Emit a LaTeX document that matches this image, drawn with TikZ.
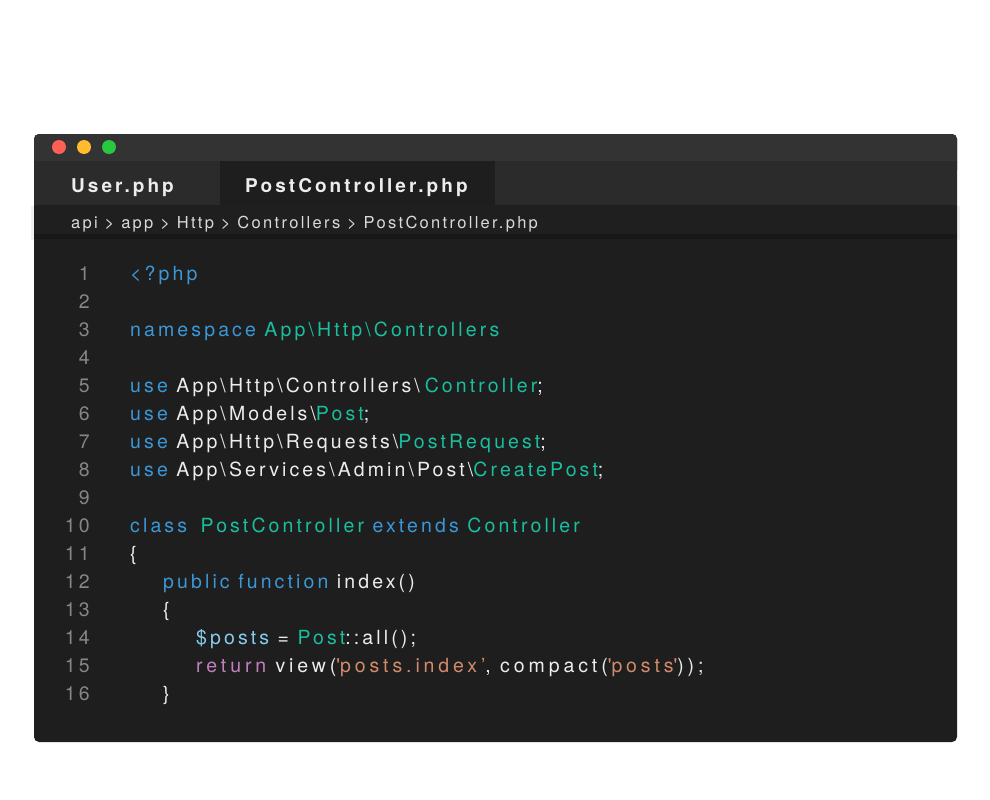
\documentclass[tikz,border=0pt]{standalone}
\usepackage{fontspec}
\newfontfamily\codefont[LetterSpace=16]{TeX Gyre Heros}
\newfontfamily\codewide[LetterSpace=20]{TeX Gyre Heros}
\newfontfamily\tabfont[LetterSpace=16]{TeX Gyre Heros}
\newfontfamily\pathfont[LetterSpace=14]{TeX Gyre Heros}
\definecolor{bgcode}{HTML}{1E1E1E}
\definecolor{bgtitle}{HTML}{333333}
\definecolor{bgtabs}{HTML}{2B2B2B}
\definecolor{bgpath}{HTML}{1F1F1F}
\definecolor{kwblue}{HTML}{3A98D8}
\definecolor{tyteal}{HTML}{1ABFA0}
\definecolor{vrblue}{HTML}{86CDF0}
\definecolor{rtpink}{HTML}{C47FC0}
\definecolor{ststr}{HTML}{D38B6C}
\definecolor{plain}{HTML}{EDEDED}
\definecolor{lnum}{HTML}{868686}
\newcommand{\kw}[1]{\textcolor{kwblue}{#1}}
\newcommand{\ty}[1]{\textcolor{tyteal}{#1}}
\newcommand{\vr}[1]{\textcolor{vrblue}{#1}}
\newcommand{\rt}[1]{\textcolor{rtpink}{#1}}
\newcommand{\st}[1]{\textcolor{ststr}{#1}}
\newcommand{\bs}{\textbackslash}

\begin{document}
\begin{tikzpicture}[x=1pt,y=-1pt,
    code/.style={anchor=base west, inner sep=0pt, text=plain,
      font=\codefont\fontsize{19.5}{21}\selectfont},
    num/.style={anchor=base east, inner sep=0pt, text=lnum,
      font=\codefont\fontsize{19.5}{21}\selectfont},
    tab/.style={anchor=base west, inner sep=0pt, text=plain,
      font=\tabfont\bfseries\fontsize{19}{21}\selectfont},
    dot/.style={circle, inner sep=0pt, minimum size=14pt}]
    \useasboundingbox (0,0) rectangle (990,800);
    \fill[white] (0,0) rectangle (990,800);

    % window
    \fill[black!6] (31,206) rectangle (960,240);
    \fill[bgcode, rounded corners=5pt] (34,134) rectangle (957,742);
    \fill[bgtitle, rounded corners=5pt] (34,134) rectangle (957,175);
    \fill[bgtabs] (34,161) rectangle (957,205);
    \fill[bgcode] (220,161) rectangle (495,205);
    \fill[bgpath] (34,205) rectangle (957,238);
    \fill[bgcode!80!black] (34,234) rectangle (957,239);

    \node[dot, fill={rgb,255:red,255;green,95;blue,87}] (close) at (59,147) {};
    \node[dot, fill={rgb,255:red,254;green,188;blue,46}] (min) at (84,147) {};
    \node[dot, fill={rgb,255:red,40;green,200;blue,64}] (max) at (109,147) {};

    \node[tab] (tabuser) at (71,192) {User.php};
    \node[tab] (tabpost) at (245,192) {PostController.php};
    \node[anchor=base west, inner sep=0pt, text=plain!92!black,
      font=\pathfont\fontsize{16.5}{18}\selectfont] (path) at (71,228)
      {api > app > Http > Controllers > PostController.php};

    % line numbers
    \foreach \n in {1,...,16}
      \node[num] (n\n) at (90,{280+28*(\n-1)}) {\n};

    % code
    \node[code] (l1) at (130,280) {\kw{<?php}};
    \node[code] (l3) at (130,336) {\kw{namespace} \ty{App\bs Http\bs Controllers}};
    \node[code] (l5) at (130,392) {\kw{use} App\bs Http\bs Controllers\bs\hspace{5pt}\ty{Controller};};
    \node[code] (l6) at (130,420) {\kw{use} App\bs Models\bs\ty{Post};};
    \node[code] (l7) at (130,448) {\kw{use} App\bs Http\bs Requests\bs\ty{PostRequest};};
    \node[code] (l8) at (130,476) {\kw{use} App\bs Services\bs Admin\bs Post\bs\ty{CreatePost};};
    \node[code] (l10) at (130,532) {\kw{class}\hspace{5pt} \ty{PostController} \kw{extends} \ty{Controller}};
    \node[code] (l11) at (130,560) {\{};
    \node[code] (l12) at (163,588) {\kw{public function} index()};
    \node[code] (l13) at (163,616) {\{};
    \node[code] (l14) at (196,644) {\vr{\$posts} = \ty{Post}::all();};
    \node[code, font=\codewide\fontsize{19.5}{21}\selectfont] (l15) at (196,672)
      {\rt{return} view(\st{\textquotesingle posts.index’}, compact(\st{\textquotesingle posts\textquotesingle}));};
    \node[code] (l16) at (163,700) {\}};
\end{tikzpicture}
\end{document}
